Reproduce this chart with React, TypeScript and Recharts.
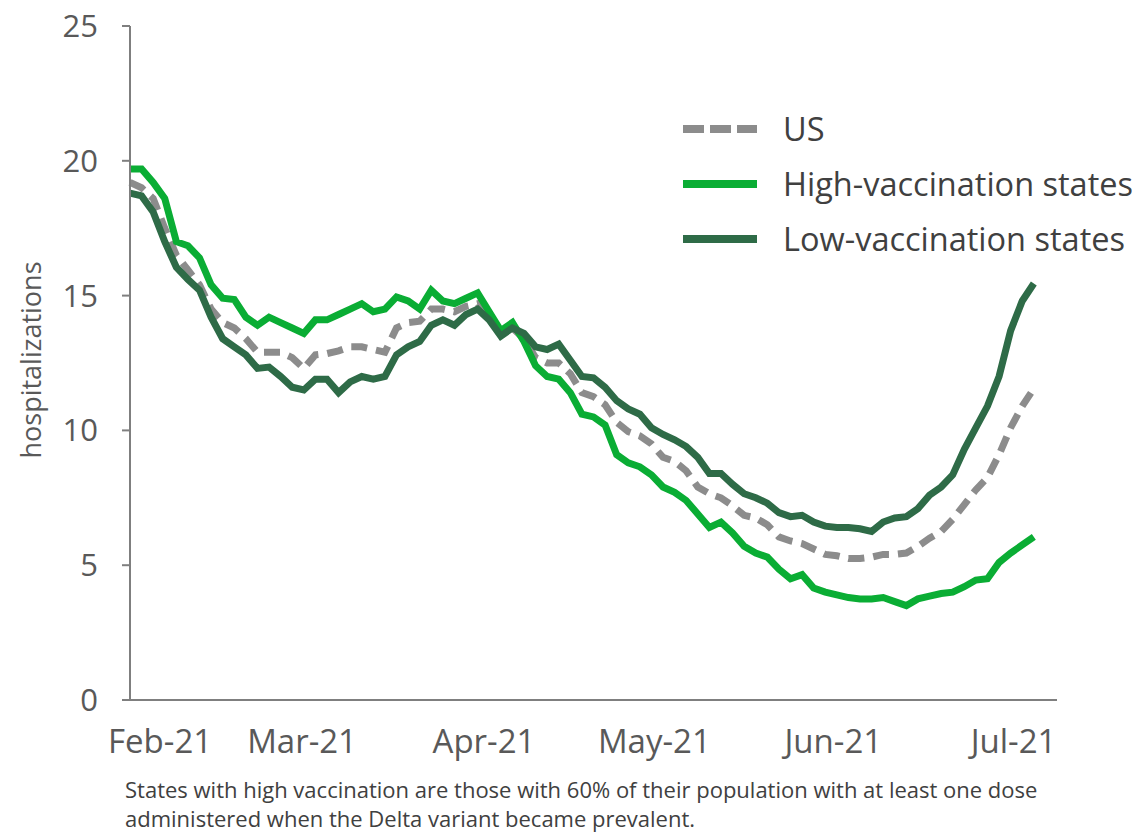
import { LineChart, Line, XAxis, YAxis } from "recharts";

// day offsets from the first data point, every second day
const days = [
  0, 2, 4, 6, 8, 10, 12, 14, 16, 18, 20, 22, 24, 26, 28, 30, 32, 34, 36, 38,
  40, 42, 44, 46, 48, 50, 52, 54, 56, 58, 60, 62, 64, 66, 68, 70, 72, 74, 76, 78,
  80, 82, 84, 86, 88, 90, 92, 94, 96, 98, 100, 102, 104, 106, 108, 110, 112, 114, 116, 118,
  120, 122, 124, 126, 128, 130, 132, 134, 136, 138, 140, 142, 144, 146, 148, 150, 152, 154, 156,
];

const usValues = [
  19.2, 19.0, 18.6, 17.5, 16.5, 15.95, 15.4, 14.5, 14.0, 13.8, 13.4, 12.9, 12.9, 12.9, 12.7, 12.3, 12.8, 12.85, 12.95, 13.1,
  13.1, 13.0, 12.9, 13.8, 14.0, 14.05, 14.5, 14.5, 14.4, 14.6, 14.7, 14.2, 13.6, 13.8, 13.4, 12.7, 12.5, 12.5, 12.1, 11.4,
  11.25, 10.95, 10.3, 9.95, 9.8, 9.5, 9.0, 8.85, 8.5, 7.9, 7.65, 7.5, 7.2, 6.85, 6.75, 6.5, 6.05, 5.9, 5.8, 5.6,
  5.4, 5.35, 5.25, 5.25, 5.3, 5.4, 5.4, 5.45, 5.7, 6.0, 6.25, 6.7, 7.25, 7.8, 8.25, 9.1, 10.1, 10.9, 11.55,
];

const highVaxValues = [
  19.7, 19.7, 19.2, 18.6, 17.0, 16.85, 16.4, 15.4, 14.9, 14.85, 14.2, 13.9, 14.2, 14.0, 13.8, 13.6, 14.1, 14.1, 14.3, 14.5,
  14.7, 14.4, 14.5, 14.95, 14.8, 14.5, 15.2, 14.8, 14.7, 14.9, 15.1, 14.4, 13.7, 14.0, 13.3, 12.4, 12.0, 11.9, 11.4, 10.6,
  10.5, 10.2, 9.1, 8.8, 8.65, 8.35, 7.9, 7.7, 7.4, 6.9, 6.4, 6.6, 6.2, 5.7, 5.45, 5.3, 4.85, 4.5, 4.65, 4.15,
  4.0, 3.9, 3.8, 3.75, 3.75, 3.8, 3.65, 3.5, 3.75, 3.85, 3.95, 4.0, 4.2, 4.45, 4.5, 5.1, 5.45, 5.75, 6.05,
];

const lowVaxValues = [
  18.8, 18.7, 18.1, 17.0, 16.05, 15.6, 15.2, 14.2, 13.4, 13.1, 12.8, 12.3, 12.35, 12.0, 11.6, 11.5, 11.9, 11.9, 11.4, 11.8,
  12.0, 11.9, 12.0, 12.8, 13.1, 13.3, 13.9, 14.1, 13.9, 14.3, 14.5, 14.1, 13.5, 13.8, 13.6, 13.1, 13.0, 13.2, 12.6, 12.0,
  11.95, 11.6, 11.1, 10.8, 10.6, 10.1, 9.85, 9.65, 9.4, 9.0, 8.4, 8.4, 8.0, 7.65, 7.5, 7.3, 6.95, 6.8, 6.85, 6.6,
  6.45, 6.4, 6.4, 6.35, 6.25, 6.6, 6.75, 6.8, 7.1, 7.6, 7.9, 8.35, 9.3, 10.1, 10.9, 12.0, 13.7, 14.8, 15.45,
];

const monthTickDays = [5.2, 29.7, 61.1, 90.5, 121.4, 152.5];
const monthTickLabels = ["Feb-21", "Mar-21", "Apr-21", "May-21", "Jun-21", "Jul-21"];
const yTicks = [0, 5, 10, 15, 20, 25];

const series = [
  { key: "us", name: "US", color: "#8c8c8c", dash: "16 9" },
  { key: "high", name: "High-vaccination states", color: "#0aad34", dash: undefined },
  { key: "low", name: "Low-vaccination states", color: "#2e6b47", dash: undefined },
];

const data = days.map((d, i) => ({
  day: d,
  us: usValues[i],
  high: highVaxValues[i],
  low: lowVaxValues[i],
}));

const font = "'Open Sans', sans-serif";
const yTickStyle = { fill: "#595959", fontSize: 31, fontFamily: font };
const xTickStyle = { fill: "#595959", fontSize: 33, fontFamily: font };

function LegendBox() {
  return (
    <div style={{ position: "absolute", left: 681, top: 101, fontFamily: font }}>
      {series.map((s) => (
        <div key={s.key} style={{ display: "flex", alignItems: "center", height: 55 }}>
          <svg width={102} height={20}>
            <line
              x1={2}
              y1={10}
              x2={76}
              y2={10}
              stroke={s.color}
              strokeWidth={8}
              strokeDasharray={s.dash ? "21 6" : undefined}
            />
          </svg>
          <span style={{ fontSize: 32.5, color: "#404040", whiteSpace: "nowrap" }}>{s.name}</span>
        </div>
      ))}
    </div>
  );
}

export default function App() {
  return (
    <div style={{ position: "absolute", left: 0, top: 0, width: 1139, height: 835, background: "#fff", overflow: "hidden" }}>
      <LineChart
        width={1139}
        height={835}
        data={data}
        margin={{ top: 26, right: 82, bottom: 75, left: 0 }}
      >
        <XAxis
          dataKey="day"
          type="number"
          domain={[0, 160]}
          ticks={monthTickDays}
          tickFormatter={(v: number) => monthTickLabels[monthTickDays.indexOf(v)]}
          tick={xTickStyle}
          tickLine={false}
          tickMargin={24}
          axisLine={{ stroke: "#7f7f7f", strokeWidth: 2 }}
          height={60}
          interval={0}
        />
        <YAxis
          type="number"
          domain={[0, 25]}
          ticks={yTicks}
          tick={yTickStyle}
          tickSize={8}
          tickMargin={24}
          tickLine={{ stroke: "#7f7f7f", strokeWidth: 2 }}
          axisLine={{ stroke: "#7f7f7f", strokeWidth: 2 }}
          width={130}
          interval={0}
        />
        {series.map((s) => (
          <Line
            key={s.key}
            dataKey={s.key}
            name={s.name}
            type="linear"
            stroke={s.color}
            strokeWidth={7}
            strokeDasharray={s.dash}
            dot={false}
            isAnimationActive={false}
          />
        ))}
      </LineChart>
      <LegendBox />
      <div
        style={{
          position: "absolute",
          left: 30,
          top: 360,
          transform: "translate(-50%, -50%) rotate(-90deg)",
          fontFamily: font,
          fontSize: 27,
          color: "#595959",
          whiteSpace: "nowrap",
        }}
      >
        hospitalizations
      </div>
      <div
        style={{
          position: "absolute",
          left: 125,
          top: 775,
          width: 1010,
          fontFamily: font,
          fontSize: 22,
          lineHeight: "29px",
          color: "#404040",
          whiteSpace: "nowrap",
        }}
      >
        States with high vaccination are those with 60% of their population with at least one dose
        <br />
        administered when the Delta variant became prevalent.
      </div>
    </div>
  );
}
